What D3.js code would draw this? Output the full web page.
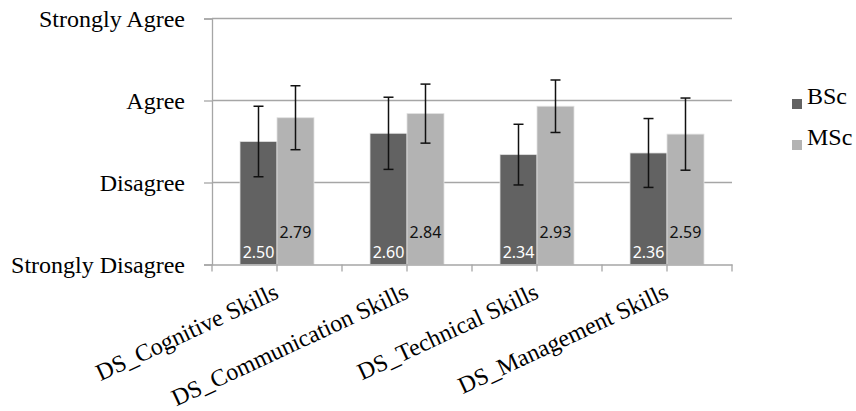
<!DOCTYPE html>
<html>
<head>
<meta charset="utf-8">
<script src="https://cdn.jsdelivr.net/npm/d3@7"></script>
<style>
  html, body { margin: 0; padding: 0; background: #fff; }
  #chart { width: 856px; height: 411px; }
</style>
</head>
<body>
<div id="chart"></div>
<script>
// Data
const categories = ["DS_Cognitive Skills", "DS_Communication Skills", "DS_Technical Skills", "DS_Management Skills"];
const series = ["BSc", "MSc"];
const bscMeans = [2.50, 2.60, 2.34, 2.36];
const mscMeans = [2.79, 2.84, 2.93, 2.59];
const bscErrors = [0.43, 0.44, 0.37, 0.42];
const mscErrors = [0.39, 0.36, 0.32, 0.44];
const yTicks = [1, 2, 3, 4];
const yTickLabels = ["Strongly Disagree", "Disagree", "Agree", "Strongly Agree"];

const width = 856, height = 411;
const plot = { left: 212, right: 732, top: 18.5, bottom: 264.5 };

const colors = { BSc: "#626262", MSc: "#b3b3b3" };
const serif = "'Liberation Serif', 'Times New Roman', serif";

const data = categories.map((c, i) => ({
  category: c,
  values: [
    { key: "BSc", mean: bscMeans[i], err: bscErrors[i] },
    { key: "MSc", mean: mscMeans[i], err: mscErrors[i] }
  ]
}));

const svg = d3.select("#chart").append("svg")
  .attr("width", width)
  .attr("height", height);

// scales
const x = d3.scaleBand()
  .domain(categories)
  .range([plot.left, plot.right])
  .paddingInner(0);

const xSub = d3.scaleBand()
  .domain(series)
  .range([0, x.bandwidth()])
  .paddingInner(0)
  .paddingOuter(0.757);

const y = d3.scaleLinear()
  .domain([1, 4])
  .range([plot.bottom, plot.top]);

// gridlines
svg.append("g")
  .selectAll("line")
  .data(yTicks.slice(1))
  .join("line")
  .attr("x1", plot.left)
  .attr("x2", plot.right)
  .attr("y1", d => y(d))
  .attr("y2", d => y(d))
  .attr("stroke", "#a6a6a6")
  .attr("stroke-width", 1.3);

// bars
const groups = svg.append("g")
  .selectAll("g")
  .data(data)
  .join("g")
  .attr("transform", d => `translate(${x(d.category)},0)`);

groups.selectAll("rect")
  .data(d => d.values)
  .join("rect")
  .attr("x", d => xSub(d.key))
  .attr("y", d => y(d.mean))
  .attr("width", xSub.bandwidth())
  .attr("height", d => y(1) - y(d.mean))
  .attr("fill", d => colors[d.key])
  .attr("stroke", "#e0e0e0")
  .attr("stroke-width", 0.8);

// error bars
const err = groups.selectAll("g.err")
  .data(d => d.values)
  .join("g")
  .attr("class", "err")
  .attr("transform", d => `translate(${xSub(d.key) + xSub.bandwidth() / 2},0)`)
  .attr("stroke", "#111")
  .attr("stroke-width", 1.5);

err.append("line")
  .attr("y1", d => y(d.mean + d.err))
  .attr("y2", d => y(d.mean - d.err));
err.append("line")
  .attr("x1", -5).attr("x2", 5)
  .attr("y1", d => y(d.mean + d.err))
  .attr("y2", d => y(d.mean + d.err));
err.append("line")
  .attr("x1", -5).attr("x2", 5)
  .attr("y1", d => y(d.mean - d.err))
  .attr("y2", d => y(d.mean - d.err));

// value labels (inside base)
groups.selectAll("text.val")
  .data(d => d.values)
  .join("text")
  .attr("class", "val")
  .attr("x", d => xSub(d.key) + xSub.bandwidth() / 2)
  .attr("y", d => d.key === "BSc" ? y(1) - 7 : y(1) - 27)
  .attr("text-anchor", "middle")
  .attr("font-family", "'Noto Sans', 'Open Sans', sans-serif")
  .attr("font-size", "16px")
  .attr("fill", d => d.key === "BSc" ? "#fff" : "#111")
  .text(d => d.mean.toFixed(2));

// x axis
const xAxis = svg.append("g")
  .attr("transform", `translate(0,${plot.bottom})`)
  .call(d3.axisBottom(x).tickSize(7).tickSizeOuter(0));

xAxis.select(".domain").attr("stroke", "#a6a6a6").attr("stroke-width", 1.3);
xAxis.selectAll(".tick line").attr("stroke", "#a6a6a6").attr("stroke-width", 1.3);
xAxis.selectAll(".tick text")
  .attr("x", 0).attr("y", 0).attr("dy", 0)
  .attr("text-anchor", "end")
  .attr("transform", "translate(3,33) rotate(-25)")
  .attr("font-family", serif)
  .attr("font-size", "24px")
  .attr("fill", "#000");

// edge ticks between categories
xAxis.append("g")
  .selectAll("line")
  .data(categories.map(c => x(c)).concat([plot.right]))
  .join("line")
  .attr("x1", d => d).attr("x2", d => d)
  .attr("y1", 0).attr("y2", 7)
  .attr("stroke", "#a6a6a6")
  .attr("stroke-width", 1.3);

// y axis
const yAxis = svg.append("g")
  .attr("transform", `translate(${plot.left},0)`)
  .call(d3.axisLeft(y)
    .tickValues(yTicks)
    .tickSize(8)
    .tickPadding(19)
    .tickFormat((d, i) => yTickLabels[i]));

yAxis.select(".domain").attr("stroke", "#a6a6a6").attr("stroke-width", 1.3);
yAxis.selectAll(".tick line").attr("stroke", "#a6a6a6").attr("stroke-width", 1.3);
yAxis.selectAll(".tick text")
  .attr("font-family", serif)
  .attr("font-size", "24px")
  .attr("fill", "#000");

// legend
const legend = svg.append("g")
  .selectAll("g")
  .data(series)
  .join("g")
  .attr("transform", (d, i) => `translate(792,${99 + i * 41})`);

legend.append("rect")
  .attr("width", 10)
  .attr("height", 10)
  .attr("fill", d => colors[d]);

legend.append("text")
  .attr("x", 15)
  .attr("y", 5)
  .attr("font-family", serif)
  .attr("font-size", "24px")
  .attr("fill", "#000")
  .text(d => d);
</script>
</body>
</html>
